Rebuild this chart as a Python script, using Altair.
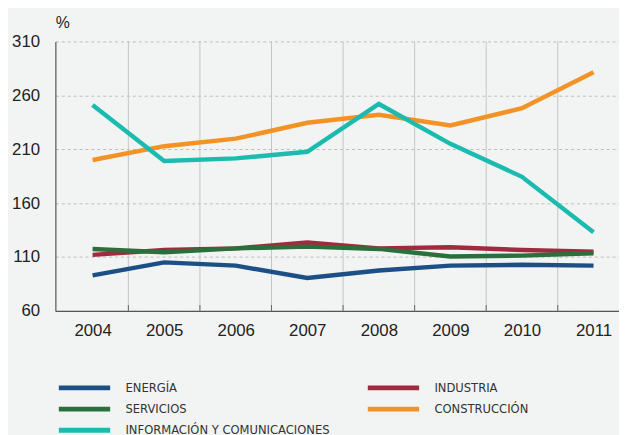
import altair as alt
import pandas as pd

years = [2004, 2005, 2006, 2007, 2008, 2009, 2010, 2011]
series_names = ["ENERGÍA", "INDUSTRIA", "SERVICIOS", "CONSTRUCCIÓN", "INFORMACIÓN Y COMUNICACIONES"]
energia = [93, 105, 102, 90.5, 97.5, 102, 102.8, 102]
industria = [112, 116.5, 118, 123.5, 118, 119, 116.5, 115]
servicios = [117.5, 114.4, 118, 119.6, 117.5, 110.4, 111.3, 113.5]
construccion = [200, 212.8, 219.8, 234.5, 242, 232, 248, 281.3]
informacion = [251, 199, 201.5, 207.6, 252, 215, 184.4, 133]
colors = ["#1c4f86", "#a12b3e", "#2b703c", "#f39325", "#1bbbaf"]
y_ticks = [60, 110, 160, 210, 260, 310]
grid_years = [2004.5, 2005.5, 2006.5, 2007.5, 2008.5, 2009.5, 2010.5]

rows = []
for i, (name, vals) in enumerate(zip(series_names, [energia, industria, servicios, construccion, informacion])):
    for yr, v in zip(years, vals):
        rows.append({"year": yr, "value": v, "serie": name, "order": i})
df = pd.DataFrame(rows)
grid_df = pd.DataFrame({"g": grid_years})

W, H = 571, 273
PX_PER_YEAR = 72.5
x_scale = alt.Scale(domain=[2003.48, 2003.48 + W / PX_PER_YEAR], nice=False, zero=False)
y_scale = alt.Scale(domain=[60, 310], nice=False, zero=False)

x_axis = alt.Axis(values=years, format="d", title=None, ticks=False, tickSize=0,
                  grid=False, labelPadding=12, labelFontSize=17, labelColor="#222222",
                  domainColor="#555555", domainWidth=1.2, labelFont="Liberation Sans")

vgrid = alt.Chart(grid_df).mark_rule(color="#c4c6c5", strokeWidth=1).encode(
    x=alt.X("g:Q", scale=x_scale, axis=x_axis),
    y=alt.value(0), y2=alt.value(H),
)
vticks = alt.Chart(grid_df).mark_rule(color="#666666", strokeWidth=1).encode(
    x=alt.X("g:Q", scale=x_scale, axis=x_axis),
    y=alt.value(H - 6), y2=alt.value(H),
)

lines = alt.Chart(df).mark_line(strokeWidth=4.5, strokeCap="butt", strokeJoin="miter").encode(
    x=alt.X("year:Q", scale=x_scale, axis=x_axis),
    y=alt.Y("value:Q", scale=y_scale,
            axis=alt.Axis(values=y_ticks, title="%", titleAngle=0, titleX=0, titleY=-19,
                          titleAlign="left", titleBaseline="middle", titleFontSize=16,
                          titleFontWeight="normal", titleColor="#222222", titleFont="Liberation Sans",
                          ticks=False, tickSize=0, labelPadding=16, labelFontSize=17,
                          labelColor="#222222", labelFont="Liberation Sans",
                          grid=True, gridDash=[3, 3], gridColor="#bbbbbb", gridWidth=1,
                          domainColor="#555555", domainWidth=1.2)),
    color=alt.Color("serie:N", scale=alt.Scale(domain=series_names, range=colors),
                    legend=alt.Legend(title=None, orient="none", legendX=1, legendY=342,
                                      direction="horizontal",
                                      columns=2, columnPadding=28, rowPadding=1.5,
                                      symbolType="M-1,0H7", symbolSize=169, symbolStrokeWidth=5,
                                      labelOffset=52, labelFontSize=13, labelColor="#333333",
                                      labelFont="DejaVu Sans Condensed", labelLimit=400,
                                      padding=0)),
    order=alt.Order("order:Q"),
    detail="serie:N",
)

chart = alt.layer(vgrid, vticks, lines).properties(
    width=W, height=H,
    autosize=alt.AutoSizeParams(type="none"),
    padding={"left": 48, "top": 31, "right": 0, "bottom": 133},
    background="#f2f4f3",
).configure_view(stroke=None)

chart.save("out.html", embed_options={"renderer": "svg", "actions": False})
